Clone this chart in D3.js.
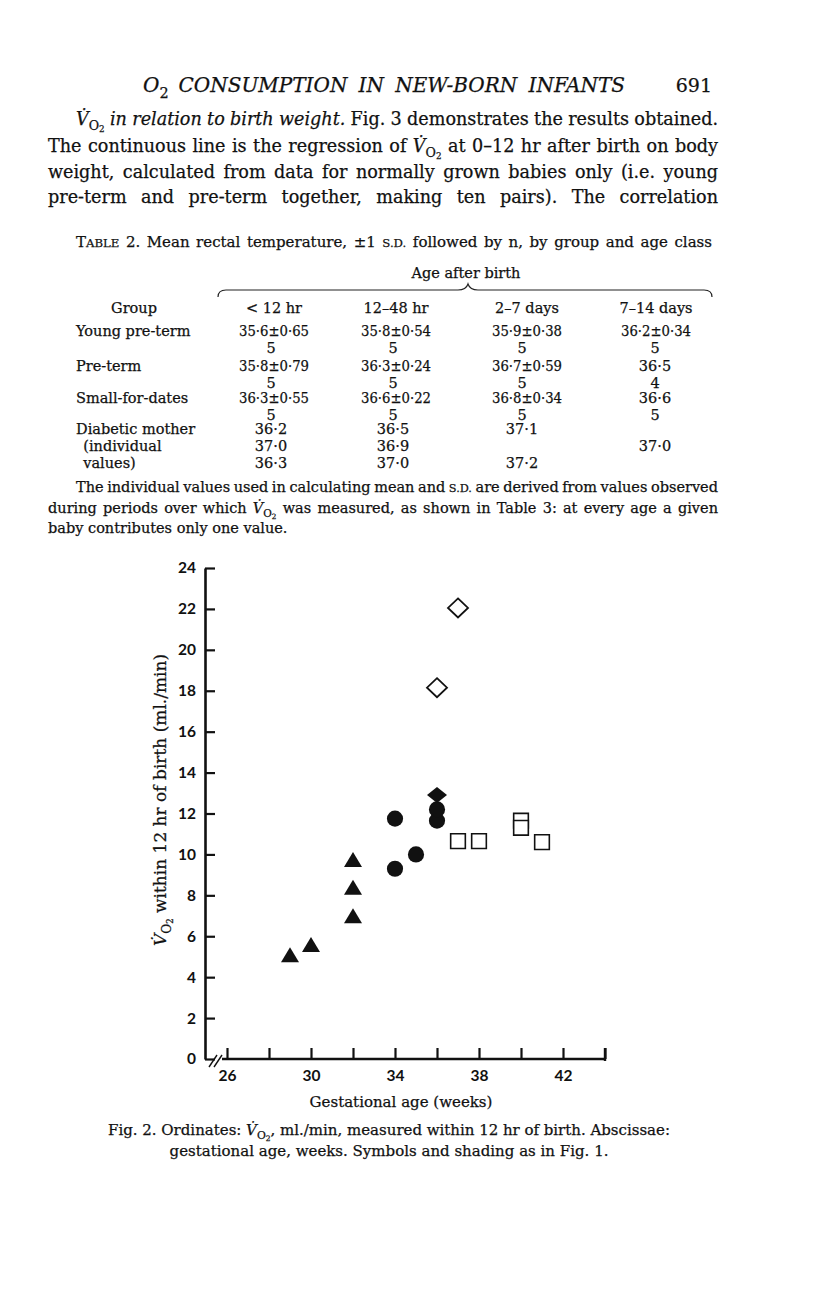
<!DOCTYPE html>
<html>
<head>
<meta charset="utf-8">
<script src="https://cdn.jsdelivr.net/npm/d3@7"></script>
<style>
  body { margin: 0; background: #fff; }
  text { fill: #111; stroke: #111; stroke-width: 0.25px; }
  .axis text { stroke: none; }
</style>
</head>
<body>
<div id="page"></div>
<script>
// Fig. 2 values: gestational age (weeks) and VO2 within 12 hr of birth (ml/min)
const triangleAge = [29, 30, 32, 32, 32];
const triangleVO2 = [5.1, 5.6, 9.75, 8.4, 7.0];
const circleAge = [34, 34, 35, 36, 36];
const circleVO2 = [11.75, 9.3, 10.0, 11.65, 12.2];
const filledDiamondAge = [36];
const filledDiamondVO2 = [12.9];
const openDiamondAge = [37, 36];
const openDiamondVO2 = [22.05, 18.15];
const squareAge = [37, 38, 40, 40, 41];
const squareVO2 = [10.65, 10.65, 11.65, 11.3, 10.6];

const xTicks = [26, 28, 30, 32, 34, 36, 38, 40, 42, 44];
const xTickLabels = [26, 30, 34, 38, 42];
const yTicks = [0, 2, 4, 6, 8, 10, 12, 14, 16, 18, 20, 22, 24];

// Table 2 (printed line by line)
const ageClasses = ["< 12 hr", "12\u201348 hr", "2\u20137 days", "7\u201314 days"];
const tableLines = [
  ["Young pre-term", "35\u00b76\u00b10\u00b765", "35\u00b78\u00b10\u00b754", "35\u00b79\u00b10\u00b738", "36\u00b72\u00b10\u00b734"],
  ["", "5", "5", "5", "5"],
  ["Pre-term", "35\u00b78\u00b10\u00b779", "36\u00b73\u00b10\u00b724", "36\u00b77\u00b10\u00b759", "36\u00b75"],
  ["", "5", "5", "5", "4"],
  ["Small-for-dates", "36\u00b73\u00b10\u00b755", "36\u00b76\u00b10\u00b722", "36\u00b78\u00b10\u00b734", "36\u00b76"],
  ["", "5", "5", "5", "5"],
  ["Diabetic mother", "36\u00b72", "36\u00b75", "37\u00b71", ""],
  ["\u2002(individual", "37\u00b70", "36\u00b79", "", "37\u00b70"],
  ["\u2002values)", "36\u00b73", "37\u00b70", "37\u00b72", ""]
];

const V = "V\u0307";
const headerLine = [["O", "i"], ["2", "s"], ["\u2002CONSUMPTION IN NEW-BORN INFANTS", "i"]];
const bodyLines = [
  [[V, "i"], ["O", "s"], ["2", "ss"], [" in relation to birth weight.", "i"], [" Fig. 3 demonstrates the results obtained.", "n"]],
  [["The continuous line is the regression of ", "n"], [V, "i"], ["O", "s"], ["2", "ss"], [" at 0\u201312 hr after birth on body", "n"]],
  [["weight, calculated from data for normally grown babies only (i.e. young", "n"]],
  [["pre-term and pre-term together, making ten pairs). The correlation", "n"]]
];
const tableTitle = [["T", "n"], ["ABLE", "sc"], [" 2. Mean rectal temperature, \u00b11 ", "n"], ["S.D.", "sc"], [" followed by n, by group and age class", "n"]];
const footLines = [
  [["The individual values used in calculating mean and ", "n"], ["S.D.", "sc"], [" are derived from values observed", "n"]],
  [["during periods over which ", "n"], [V, "i"], ["O", "s"], ["2", "ss"], [" was measured, as shown in Table 3: at every age a given", "n"]],
  [["baby contributes only one value.", "n"]]
];
const captionLines = [
  [["Fig. 2. Ordinates: ", "n"], [V, "i"], ["O", "s"], ["2", "ss"], [", ml./min, measured within 12 hr of birth. Abscissae:", "n"]],
  [["gestational age, weeks. Symbols and shading as in Fig. 1.", "n"]]
];
const yTitle = [[V, "i"], ["O", "s"], ["2", "ss"], [" within 12 hr of birth (ml./min)", "n"]];

const W = 816, H = 1296;
const serif = "'DejaVu Serif', serif";

const svg = d3.select("#page").append("svg")
    .attr("width", W)
    .attr("height", H)
    .style("display", "block");

// write a line made of styled pieces; optionally justify to a width
function addLine(parent, x, y, pieces, size, opts = {}) {
  const t = parent.append("text")
      .attr("x", x)
      .attr("y", y)
      .attr("font-family", serif)
      .attr("font-size", size)
      .attr("text-anchor", opts.anchor || "start")
      .attr("xml:space", "preserve");
  if (opts.transform) t.attr("transform", opts.transform);
  let shift = 0;
  pieces.forEach(([txt, st]) => {
    let target = 0, fs = size, style = "normal";
    if (st === "i") style = "italic";
    if (st === "s") { target = size * 0.28; fs = size * 0.72; }
    if (st === "ss") { target = size * 0.42; fs = size * 0.5; }
    if (st === "sc") { fs = size * 0.78; }
    t.append("tspan")
        .attr("dy", target - shift)
        .attr("font-size", fs)
        .attr("font-style", style)
        .text(txt);
    shift = target;
  });
  if (opts.len) {
    // justify with word spacing, then pin the exact width
    const natural = t.node().getComputedTextLength();
    const spaces = pieces.map(p => p[0]).join("").split(" ").length - 1;
    if (spaces > 0 && !opts.adjust) t.style("word-spacing", ((opts.len - natural) / spaces) + "px");
    t.attr("textLength", opts.len).attr("lengthAdjust", opts.adjust || "spacing");
  }
  return t;
}

// running head and body text
addLine(svg, 143, 92, headerLine, 20, {len: 482});
addLine(svg, 712, 92, [["691", "n"]], 19, {anchor: "end"});

const bodyY = [125, 152, 178, 203];
bodyLines.forEach((ln, i) => {
  const x0 = i === 0 ? 76 : 48;
  addLine(svg, x0, bodyY[i], ln, 17.6, {len: 718 - x0});
});

// table
addLine(svg, 76, 247, tableTitle, 15, {len: 636});
addLine(svg, 466, 278, [["Age after birth", "n"]], 14.5, {anchor: "middle"});

const braceY = 290;
svg.append("path")
    .attr("d", `M218,${braceY + 7} Q218,${braceY} 226,${braceY} L458,${braceY} Q466,${braceY} 468,${braceY - 6}`
      + ` Q470,${braceY} 478,${braceY} L704,${braceY} Q712,${braceY} 712,${braceY + 7}`)
    .attr("fill", "none")
    .attr("stroke", "#222")
    .attr("stroke-width", 1.2);

const colPM = [274, 396, 527, 656];
const colOne = [271, 393, 522, 655];
addLine(svg, 134, 313, [["Group", "n"]], 14.5, {anchor: "middle"});
ageClasses.forEach((c, j) => addLine(svg, colPM[j], 313, [[c, "n"]], 14.5, {anchor: "middle"}));

const rowY = [336, 353, 371, 388, 403, 420, 434, 451, 468];
tableLines.forEach((ln, i) => {
  if (ln[0]) addLine(svg, 76, rowY[i], [[ln[0], "n"]], 14.5);
  ln.slice(1).forEach((c, j) => {
    if (!c) return;
    const isPM = c.includes("\u00b1");
    const cx = isPM ? colPM[j] : colOne[j];
    addLine(svg, cx, rowY[i], [[c, "n"]], 14.5,
        isPM ? {anchor: "middle", len: 70, adjust: "spacingAndGlyphs"} : {anchor: "middle"});
  });
});

const footY = [492, 513, 533];
addLine(svg, 76, footY[0], footLines[0], 14.5, {len: 642});
addLine(svg, 48, footY[1], footLines[1], 14.5, {len: 670});
addLine(svg, 48, footY[2], footLines[2], 14.5);

// ---- Fig. 2 scatter ----
const x = d3.scaleLinear().domain([26, 44]).range([227, 605]);
const y = d3.scaleLinear().domain([0, 24]).range([1059, 568]);
const axisX0 = 205;

const chart = svg.append("g");

// y axis: ticks point into the plot, labels on the left
chart.append("g")
    .attr("class", "axis")
    .attr("transform", `translate(${axisX0},0)`)
    .call(d3.axisLeft(y).tickValues(yTicks).tickSize(-10).tickSizeOuter(0).tickPadding(9))
    .call(g => g.select(".domain").attr("stroke-width", 2.6).attr("stroke", "#111"))
    .call(g => g.selectAll(".tick line").attr("stroke-width", 2.2).attr("stroke", "#111"))
    .call(g => g.selectAll(".tick text")
        .attr("font-family", "Lato, sans-serif")
        .attr("font-weight", 700)
        .attr("font-size", 15.5)
        .attr("fill", "#151515"));

// x axis
chart.append("g")
    .attr("class", "axis")
    .attr("transform", `translate(0,${y(0)})`)
    .call(d3.axisBottom(x).tickValues(xTicks).tickSize(-11).tickSizeOuter(0).tickPadding(11)
        .tickFormat(d => xTickLabels.includes(d) ? d : ""))
    .call(g => g.select(".domain").remove())
    .call(g => g.selectAll(".tick line").attr("stroke-width", 2.2).attr("stroke", "#111"))
    .call(g => g.selectAll(".tick text")
        .attr("font-family", "Lato, sans-serif")
        .attr("font-weight", 700)
        .attr("font-size", 15.5)
        .attr("fill", "#151515"));

// axis line with the scale break near the origin
chart.append("line")
    .attr("x1", x(26) - 5).attr("x2", x(44) + 1)
    .attr("y1", y(0)).attr("y2", y(0))
    .attr("stroke", "#111").attr("stroke-width", 2.6);
chart.append("line")
    .attr("x1", x(44)).attr("x2", x(44))
    .attr("y1", y(0) - 11).attr("y2", y(0) + 2)
    .attr("stroke", "#111").attr("stroke-width", 2.4);
[0, 5].forEach(o => {
  chart.append("line")
      .attr("x1", axisX0 + 4 + o).attr("y1", y(0) + 8)
      .attr("x2", axisX0 + 12 + o).attr("y2", y(0) - 4)
      .attr("stroke", "#111").attr("stroke-width", 1.4);
});

// axis titles
addLine(chart, 401, 1107, [["Gestational age (weeks)", "n"]], 15, {anchor: "middle"});
addLine(chart, 0, 0, yTitle, 17, {anchor: "middle", transform: `translate(166,800) rotate(-90)`});

// marker shapes
const triPath = (w, h) => `M0,${-h / 2}L${w / 2},${h / 2}L${-w / 2},${h / 2}Z`;
const diaPath = (w, h) => `M0,${-h / 2}L${w / 2},0L0,${h / 2}L${-w / 2},0Z`;

function plot(ages, vals, d, fill, stroke, sw) {
  chart.append("g").selectAll("path")
      .data(ages.map((a, i) => [a, vals[i]]))
      .enter().append("path")
      .attr("transform", p => `translate(${x(p[0])},${y(p[1])})`)
      .attr("d", d)
      .attr("fill", fill)
      .attr("stroke", stroke)
      .attr("stroke-width", sw);
}

plot(triangleAge, triangleVO2, triPath(18, 15), "#111", "none", 0);
plot(circleAge, circleVO2, d3.symbol(d3.symbolCircle, 205)(), "#111", "none", 0);
plot(filledDiamondAge, filledDiamondVO2, diaPath(20, 16), "#111", "none", 0);
plot(openDiamondAge, openDiamondVO2, diaPath(20, 19), "#fff", "#111", 1.8);
plot(squareAge, squareVO2, d3.symbol(d3.symbolSquare, 215)(), "#fff", "#111", 1.6);

// caption
addLine(svg, 389, 1135, captionLines[0], 15, {anchor: "middle", len: 562});
addLine(svg, 389, 1156, captionLines[1], 15, {anchor: "middle"});
</script>
</body>
</html>
